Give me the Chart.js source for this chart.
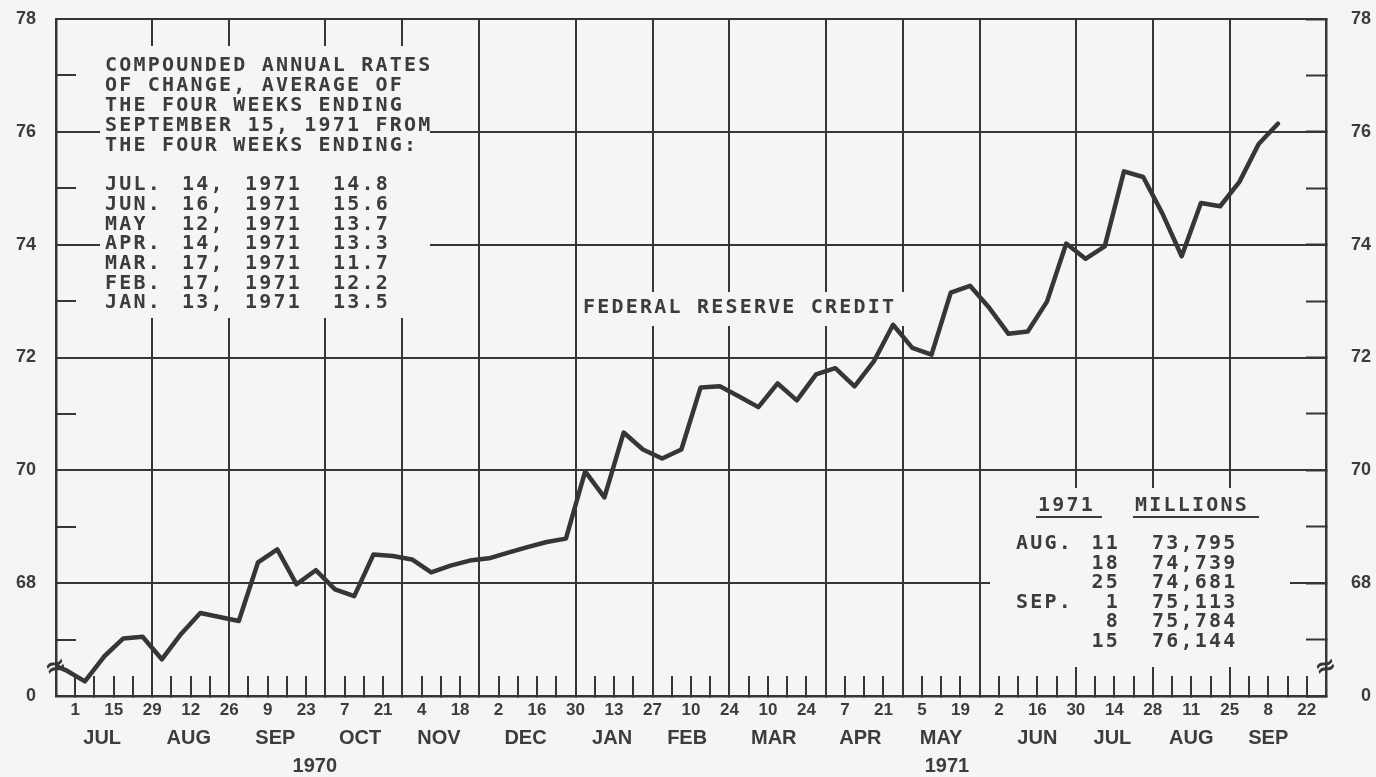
<!DOCTYPE html>
<html>
<head>
<meta charset="utf-8">
<title>Federal Reserve Credit</title>
<script src="https://cdn.jsdelivr.net/npm/chart.js@4.4.1/dist/chart.umd.min.js"></script>
<style>
  html, body { margin: 0; padding: 0; background: #f5f5f3; }
  canvas { display: block; }
</style>
</head>
<body>
<canvas id="chart" width="1376" height="777"></canvas>
<script>
// Federal Reserve Credit, weekly averages of daily figures, billions of dollars.
// Weeks are counted from Wednesday Jul 1, 1970 (week 0). The series starts with
// the week ending Jun 24, 1970 (week -1) and ends with Sep 15, 1971 (week 63).
const FIRST_WEEK = -1;
const credit = [
  66.60, 66.46, 66.26, 66.70, 67.02, 67.05, 66.65, 67.10, 67.47, 67.40,
  67.33, 68.37, 68.60, 67.98, 68.23, 67.89, 67.77, 68.51, 68.48, 68.42,
  68.19, 68.31, 68.40, 68.44, 68.54, 68.64, 68.73, 68.79, 69.98, 69.52,
  70.67, 70.37, 70.21, 70.37, 71.47, 71.49, 71.31, 71.12, 71.54, 71.24,
  71.70, 71.81, 71.49, 71.93, 72.58, 72.17, 72.05, 73.15, 73.27, 72.88,
  72.42, 72.46, 72.99, 74.02, 73.75, 73.97, 75.30, 75.20, 74.55, 73.795,
  74.739, 74.681, 75.113, 75.784, 76.144,
];

// Day of month under every second weekly tick (weeks 0, 2, ... 64)
const dayLabels = ['1', '15', '29', '12', '26', '9', '23', '7', '21', '4', '18',
  '2', '16', '30', '13', '27', '10', '24', '10', '24', '7', '21', '5', '19',
  '2', '16', '30', '14', '28', '11', '25', '8', '22'];

// last Wednesday of each month -> full height rule
const monthEndWeeks = [4, 8, 13, 17, 21, 26, 30, 34, 39, 43, 47, 52, 56, 60];

const monthLabels = ['JUL', 'AUG', 'SEP', 'OCT', 'NOV', 'DEC', 'JAN', 'FEB',
  'MAR', 'APR', 'MAY', 'JUN', 'JUL', 'AUG', 'SEP'];
const monthLabelWeeks = [1.4, 5.9, 10.4, 14.8, 18.9, 23.4, 27.9, 31.8, 36.3,
  40.8, 45.0, 50.0, 53.9, 58.0, 62.0];

const yearLabels = ['1970', '1971'];
const yearLabelWeeks = [12.45, 45.3];

// broken scale: the bottom (66) is printed as "0"
const Y_MIN = 66, Y_MAX = 78;

const rateHeader = ['COMPOUNDED ANNUAL RATES', 'OF CHANGE, AVERAGE OF',
  'THE FOUR WEEKS ENDING', 'SEPTEMBER 15, 1971 FROM', 'THE FOUR WEEKS ENDING:'];
const rateMonth = ['JUL.', 'JUN.', 'MAY', 'APR.', 'MAR.', 'FEB.', 'JAN.'];
const rateDay = ['14,', '16,', '12,', '14,', '17,', '17,', '13,'];
const rateYear = ['1971', '1971', '1971', '1971', '1971', '1971', '1971'];
const rateValue = ['14.8', '15.6', '13.7', '13.3', '11.7', '12.2', '13.5'];

const recentMonth = ['AUG.', '', '', 'SEP.', '', ''];
const recentDay = ['11', '18', '25', '1', '8', '15'];
const recentValue = ['73,795', '74,739', '74,681', '75,113', '75,784', '76,144'];

const PAPER = '#f5f5f3';
const INK = '#363636';
const TEXT = '#3c3c3c';
const CLEAR = 'rgba(0,0,0,0)';
const MONO = '"DejaVu Sans Mono", "Liberation Mono", monospace';
const SANS = '"Liberation Sans", Arial, sans-serif';

// weekly averages are centred half a week before the Wednesday they end on
const points = credit.map((v, i) => ({ x: FIRST_WEEK + i - 0.5, y: v }));

const weekTicks = [];
for (let w = 0; w <= 64; w++) weekTicks.push(w);
const yTicks = [];
for (let v = Y_MIN; v <= Y_MAX; v++) yTicks.push(v);

const yLabel = (v) => (v === Y_MIN ? '0' : (v % 2 === 0 ? String(v) : ''));

function knockout(ctx, x, y, w, h) {
  ctx.fillStyle = PAPER;
  ctx.fillRect(x, y, w, h);
}

// text panels sit on top of the grid, under the line
const notes = {
  id: 'notes',
  beforeDatasetsDraw(chart) {
    const ctx = chart.ctx;
    ctx.save();
    knockout(ctx, 100, 46, 330, 272);
    knockout(ctx, 578, 292, 328, 34);
    knockout(ctx, 990, 488, 300, 179);

    ctx.fillStyle = TEXT;
    ctx.font = 'bold 20px ' + MONO;
    ctx.letterSpacing = '2.2px';
    ctx.textBaseline = 'middle';
    ctx.textAlign = 'left';

    rateHeader.forEach((s, i) => ctx.fillText(s, 105, 66 + i * 20));
    rateMonth.forEach((s, i) => {
      const y = 185 + i * 19.7;
      ctx.fillText(s, 105, y);
      ctx.fillText(rateDay[i], 182, y);
      ctx.fillText(rateYear[i], 245, y);
      ctx.fillText(rateValue[i], 333, y);
    });

    ctx.fillText('FEDERAL RESERVE CREDIT', 583, 308);

    ctx.fillText('1971', 1038, 506);
    ctx.fillText('MILLIONS', 1135, 506);
    ctx.strokeStyle = TEXT;
    ctx.lineWidth = 2;
    ctx.beginPath();
    ctx.moveTo(1036, 517); ctx.lineTo(1102, 517);
    ctx.moveTo(1133, 517); ctx.lineTo(1259, 517);
    ctx.stroke();

    recentDay.forEach((d, i) => {
      const y = 544 + i * 19.5;
      ctx.textAlign = 'left';
      if (recentMonth[i]) ctx.fillText(recentMonth[i], 1016, y);
      ctx.fillText(recentValue[i], 1152, y);
      ctx.textAlign = 'right';
      ctx.fillText(d, 1120, y);
    });
    ctx.restore();
  },
  afterDraw(chart) {
    // scale break marks on both axes
    const { ctx, chartArea, scales } = chart;
    const y = scales.y.getPixelForValue(66.5);
    ctx.save();
    ctx.fillStyle = INK;
    ctx.font = 'bold 26px "DejaVu Sans"';
    ctx.textAlign = 'center';
    ctx.textBaseline = 'middle';
    [chartArea.left, chartArea.right].forEach((x) => {
      ctx.save();
      ctx.translate(x, y);
      ctx.rotate(-0.35);
      ctx.fillText('\u2248', 0, 0);
      ctx.restore();
    });
    ctx.restore();
  },
};

const labelTicks = (values) => (s) => { s.ticks = values.map((v) => ({ value: v })); };

// fixed axis widths; the big tick padding must not push the plot down
const fixWidth = (w) => (s) => { s.width = w; s.paddingTop = 10; s.paddingBottom = 10; };

new Chart(document.getElementById('chart'), {
  type: 'line',
  data: {
    datasets: [{
      label: 'Federal Reserve Credit',
      data: points,
      borderColor: INK,
      borderWidth: 4.5,
      borderJoinStyle: 'round',
      borderCapStyle: 'round',
      pointRadius: 0,
      tension: 0,
      fill: false,
    }],
  },
  options: {
    responsive: false,
    animation: false,
    devicePixelRatio: 1,
    events: [],
    layout: { padding: { top: 19, right: 5, left: 0, bottom: 0 } },
    plugins: { legend: { display: false }, tooltip: { enabled: false } },
    scales: {
      x: {
        type: 'linear',
        position: 'bottom',
        weight: 0,
        min: -1,
        max: 65,
        afterBuildTicks: labelTicks(weekTicks),
        afterFit: (s) => { s.height = 30; },
        grid: {
          color: (c) => (c.tick && monthEndWeeks.includes(c.tick.value) ? INK : CLEAR),
          lineWidth: 2,
          drawTicks: true,
          tickLength: -20,
          tickColor: INK,
          tickWidth: 2,
        },
        border: { display: true, color: INK, width: 2.5 },
        ticks: {
          autoSkip: false, maxRotation: 0, minRotation: 0, padding: 24,
          color: TEXT, font: { family: SANS, size: 17, weight: 'bold' },
          callback: (v) => (v % 2 === 0 ? dayLabels[v / 2] : ''),
        },
      },
      xMonth: {
        type: 'linear',
        position: 'bottom',
        weight: 1,
        min: -1,
        max: 65,
        afterBuildTicks: labelTicks(monthLabelWeeks),
        afterFit: (s) => { s.height = 28; },
        grid: { display: false, drawTicks: false },
        border: { display: false },
        ticks: {
          autoSkip: false, maxRotation: 0, minRotation: 0, padding: 0,
          color: TEXT, font: { family: SANS, size: 20, weight: 'bold' },
          callback: (v, i) => monthLabels[i],
        },
      },
      xYear: {
        type: 'linear',
        position: 'bottom',
        weight: 2,
        min: -1,
        max: 65,
        afterBuildTicks: labelTicks(yearLabelWeeks),
        afterFit: (s) => { s.height = 23; },
        grid: { display: false, drawTicks: false },
        border: { display: false },
        ticks: {
          autoSkip: false, maxRotation: 0, minRotation: 0, padding: 0,
          color: TEXT, font: { family: SANS, size: 20, weight: 'bold' },
          callback: (v, i) => yearLabels[i],
        },
      },
      y: {
        type: 'linear',
        position: 'left',
        min: Y_MIN,
        max: Y_MAX,
        afterBuildTicks: labelTicks(yTicks),
        afterFit: fixWidth(56),
        grid: {
          color: (c) => (c.tick && c.tick.value % 2 === 0 && c.tick.value > Y_MIN ? INK : CLEAR),
          lineWidth: 2,
          tickLength: -20,
          tickColor: INK,
          tickWidth: 2,
        },
        border: { display: true, color: INK, width: 2.5 },
        ticks: { padding: 40, color: TEXT, font: { family: SANS, size: 18, weight: 'bold' }, callback: yLabel },
      },
      y2: {
        type: 'linear',
        position: 'right',
        min: Y_MIN,
        max: Y_MAX,
        afterBuildTicks: labelTicks(yTicks),
        afterFit: fixWidth(45),
        grid: {
          drawOnChartArea: false,
          tickLength: -20,
          tickColor: INK,
          tickWidth: 2,
        },
        border: { display: true, color: INK, width: 2.5 },
        ticks: { crossAlign: 'far', color: TEXT, font: { family: SANS, size: 18, weight: 'bold' }, callback: yLabel },
      },
    },
  },
  plugins: [notes],
});
</script>
</body>
</html>
